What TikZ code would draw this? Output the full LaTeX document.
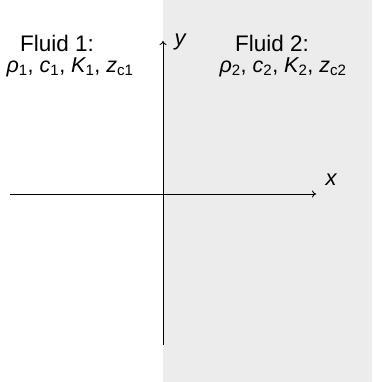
\documentclass[tikz,border=0pt]{standalone}
\usepackage{fontspec}
\setmainfont{Liberation Sans}
\usetikzlibrary{arrows.meta}
\newcommand{\vv}[2]{{\itshape #1}\textsubscript{#2}}
\begin{document}
\begin{tikzpicture}[x=1pt,y=-1pt,
  axis/.style={line width=0.9pt,-{To[length=4pt,width=7pt]}},
  lbl/.style={inner sep=0pt,font=\fontsize{22.5}{26}\selectfont,align=center},
  plbl/.style={inner sep=0pt,font=\fontsize{21.5}{26}\selectfont,align=center},
  axlbl/.style={inner sep=0pt,font=\fontsize{22}{26}\selectfont\itshape}]
\useasboundingbox (0,0) rectangle (372,382);
\fill[gray!15] (163,0) rectangle (372,382);
\coordinate (ybot) at (163,345);
\coordinate (ytop) at (163,41);
\coordinate (xl) at (10,194);
\coordinate (xr) at (316,194);
\draw[axis] (ybot) -- (ytop);
\draw[axis] (xl) -- (xr);
\node[axlbl] (ylab) at (180,42) {y};
\node[axlbl] (xlab) at (331,180) {x};
\node[lbl] (f1) at (57,43) {Fluid 1:};
\node[plbl] (p1) at (70,67) {\vv{ρ}{1}, \vv{c}{1}, \vv{K}{1}, \vv{z}{c1}};
\node[lbl] (f2) at (272,43) {Fluid 2:};
\node[plbl] (p2) at (283,67) {\vv{ρ}{2}, \vv{c}{2}, \vv{K}{2}, \vv{z}{c2}};
\end{tikzpicture}
\end{document}
